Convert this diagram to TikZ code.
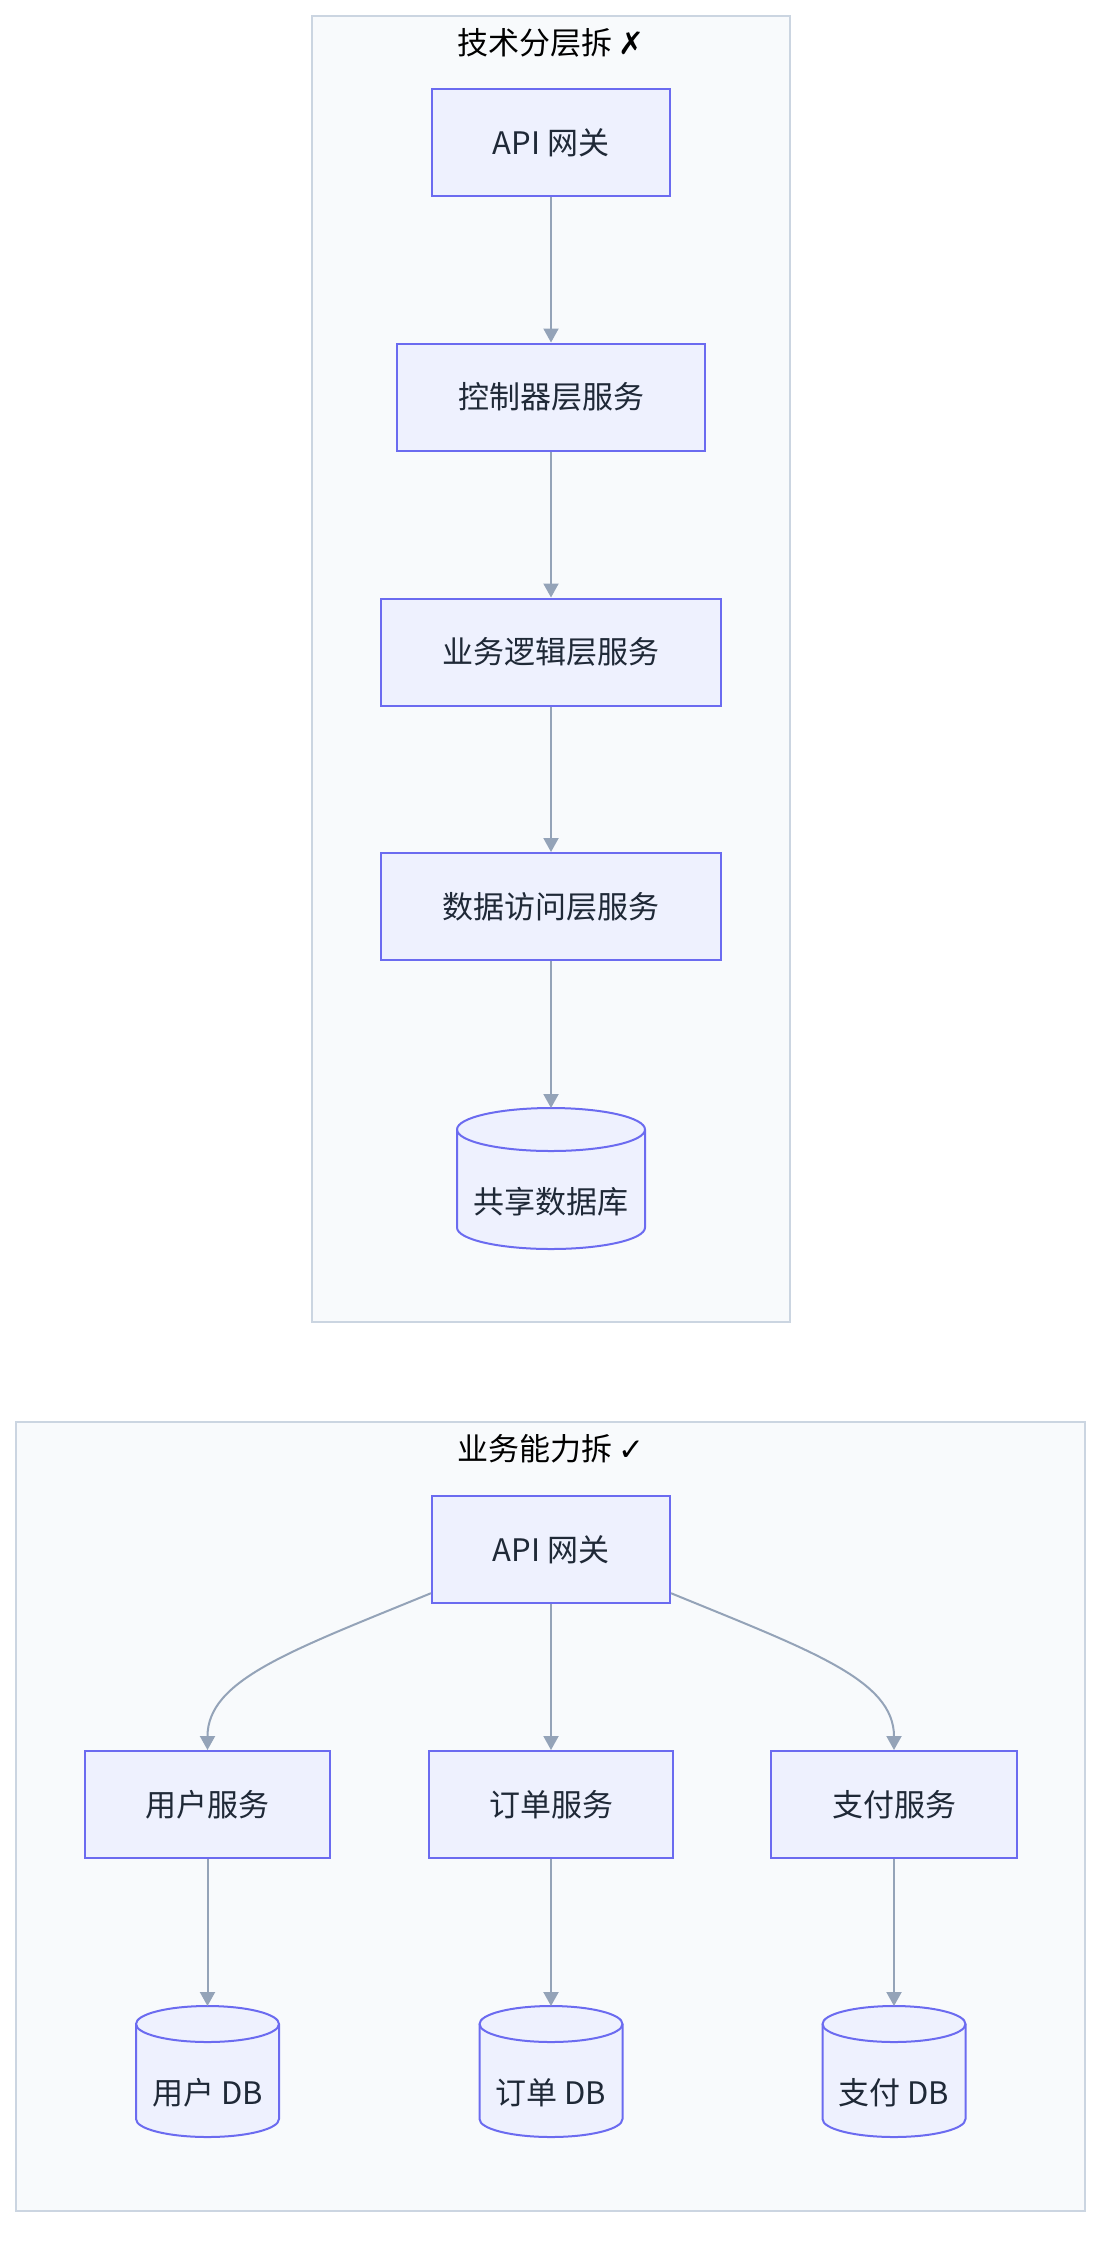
\documentclass[tikz,border=0pt]{standalone}
\usepackage{fontspec}
\setmainfont{Noto Sans CJK SC}
\newfontfamily\symfont{DejaVu Sans}
\usetikzlibrary{arrows.meta}
\definecolor{groupfill}{HTML}{F8FAFC}
\definecolor{groupline}{HTML}{CBD5E1}
\definecolor{nodefill}{HTML}{EEF1FE}
\definecolor{nodeline}{HTML}{6B6BF0}
\definecolor{nodetext}{HTML}{1F2937}
\definecolor{edgeline}{HTML}{94A3B8}
\begin{document}
\begin{tikzpicture}[x=0.5pt,y=-0.5pt,
    group/.style={draw=groupline, fill=groupfill, line width=1pt},
    grouptitle/.style={font=\fontsize{15.5}{18}\selectfont, text=black},
    svc/.style={draw=nodeline, fill=nodefill, line width=1pt, text=nodetext, font=\fontsize{15.5}{18}\selectfont, minimum height=53.5pt, inner sep=0pt},
    dbslot/.style={inner sep=0pt, outer sep=0pt},
    dbbody/.style={draw=nodeline, fill=nodefill, line width=1pt},
    dbtext/.style={text=nodetext, font=\fontsize{15.5}{18}\selectfont},
    flow/.style={draw=edgeline, line width=1pt, -{Triangle[length=7pt,width=7.5pt]}}]
    \useasboundingbox (0,0) rectangle (1118,2256);

    % Technische Schichten
    \draw[group] (312,16) rectangle (790,1322);
    \node[grouptitle] (title1) at (551,43) {技术分层拆 {\symfont ✗}};

    \node[svc, minimum width=119pt] (api1) at (551,142.5) {API 网关};
    \node[svc, minimum width=154pt] (ctrl) at (551,397) {控制器层服务};
    \node[svc, minimum width=170pt] (biz) at (551,652) {业务逻辑层服务};
    \node[svc, minimum width=170pt] (dao) at (551,906.5) {数据访问层服务};

    \node[dbslot, minimum width=94pt, minimum height=70.5pt] (shdb) at (551,1178.5) {};
    \path[dbbody] ([yshift=-10.75pt]shdb.north west) -- ([yshift=10.75pt]shdb.south west)
        arc[start angle=180, end angle=360, x radius=47pt, y radius=10.75pt]
        -- ([yshift=-10.75pt]shdb.north east)
        arc[start angle=0, end angle=180, x radius=47pt, y radius=10.75pt] -- cycle;
    \draw[dbbody, fill=none] ([yshift=-10.75pt]shdb.north west) arc[start angle=180, end angle=360, x radius=47pt, y radius=10.75pt];
    \node[dbtext] (shdb-text) at ([yshift=-11.75pt]shdb.center) {共享数据库};

    \draw[flow] (api1) -- (ctrl);
    \draw[flow] (ctrl) -- (biz);
    \draw[flow] (biz) -- (dao);
    \draw[flow] (dao) -- (shdb);

    % Geschaeftsfaehigkeiten
    \draw[group] (16,1422) rectangle (1085,2211);
    \node[grouptitle] (title2) at (551,1449) {业务能力拆 {\symfont ✓}};

    \node[svc, minimum width=119pt] (api2) at (551,1549.5) {API 网关};
    \node[svc, minimum width=122.5pt] (user) at (207.5,1804.5) {用户服务};
    \node[svc, minimum width=122pt] (order) at (551,1804.5) {订单服务};
    \node[svc, minimum width=123pt] (pay) at (894,1804.5) {支付服务};

    % DB je Dienst
    \node[dbslot, minimum width=71.5pt, minimum height=65.5pt] (userdb) at (207.5,2071.5) {};
    \path[dbbody] ([yshift=-9pt]userdb.north west) -- ([yshift=9pt]userdb.south west)
        arc[start angle=180, end angle=360, x radius=35.75pt, y radius=9pt]
        -- ([yshift=-9pt]userdb.north east)
        arc[start angle=0, end angle=180, x radius=35.75pt, y radius=9pt] -- cycle;
    \draw[dbbody, fill=none] ([yshift=-9pt]userdb.north west) arc[start angle=180, end angle=360, x radius=35.75pt, y radius=9pt];
    \node[dbtext] (userdb-text) at ([yshift=-10.75pt]userdb.center) {用户 DB};

    \node[dbslot, minimum width=71.5pt, minimum height=65.5pt] (orderdb) at (551,2071.5) {};
    \path[dbbody] ([yshift=-9pt]orderdb.north west) -- ([yshift=9pt]orderdb.south west)
        arc[start angle=180, end angle=360, x radius=35.75pt, y radius=9pt]
        -- ([yshift=-9pt]orderdb.north east)
        arc[start angle=0, end angle=180, x radius=35.75pt, y radius=9pt] -- cycle;
    \draw[dbbody, fill=none] ([yshift=-9pt]orderdb.north west) arc[start angle=180, end angle=360, x radius=35.75pt, y radius=9pt];
    \node[dbtext] (orderdb-text) at ([yshift=-10.75pt]orderdb.center) {订单 DB};

    \node[dbslot, minimum width=71.5pt, minimum height=65.5pt] (paydb) at (894,2071.5) {};
    \path[dbbody] ([yshift=-9pt]paydb.north west) -- ([yshift=9pt]paydb.south west)
        arc[start angle=180, end angle=360, x radius=35.75pt, y radius=9pt]
        -- ([yshift=-9pt]paydb.north east)
        arc[start angle=0, end angle=180, x radius=35.75pt, y radius=9pt] -- cycle;
    \draw[dbbody, fill=none] ([yshift=-9pt]paydb.north west) arc[start angle=180, end angle=360, x radius=35.75pt, y radius=9pt];
    \node[dbtext] (paydb-text) at ([yshift=-10.75pt]paydb.center) {支付 DB};

    \draw[flow] (api2.200) .. controls (290,1651) and (207.5,1680) .. (user.north);
    \draw[flow] (api2) -- (order);
    \draw[flow] (api2.340) .. controls (812,1651) and (894,1680) .. (pay.north);

    \draw[flow] (user) -- (userdb);
    \draw[flow] (order) -- (orderdb);
    \draw[flow] (pay) -- (paydb);

\end{tikzpicture}
\end{document}
